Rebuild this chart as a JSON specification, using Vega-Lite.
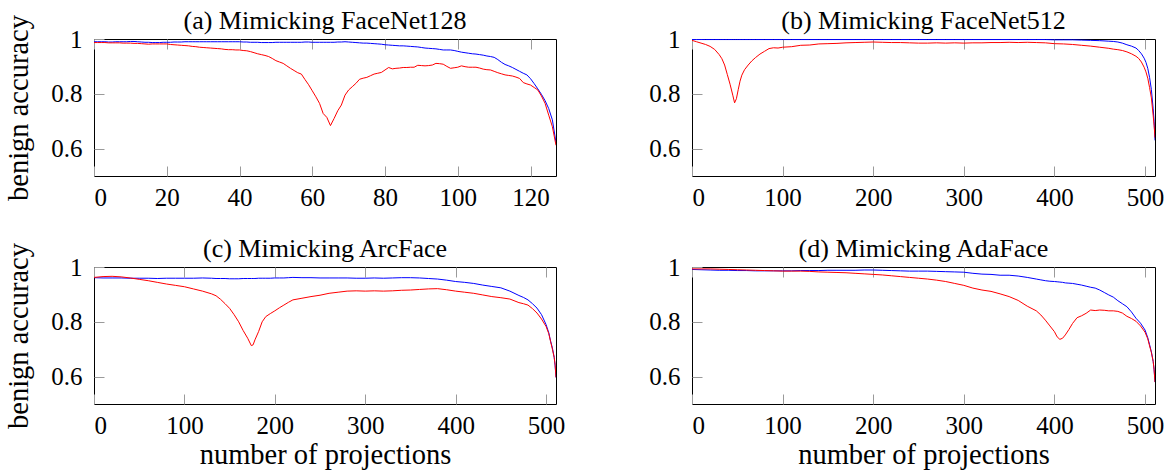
{
  "$schema": "https://vega.github.io/schema/vega-lite/v6.json",
  "autosize": {"type": "pad"},
  "padding": {"left": 4, "top": 7, "right": 2, "bottom": 1},
  "background": "white",
  "config": {
    "font": "Liberation Serif",
    "view": {"stroke": "#000000", "strokeWidth": 1},
    "axis": {
      "labelFont": "Liberation Serif", "labelFontSize": 25, "labelColor": "#000000",
      "titleFont": "Liberation Serif", "titleFontSize": 28.5, "titleFontWeight": "normal", "titleColor": "#000000",
      "grid": false, "domain": false, "tickColor": "#9a9a9a", "tickWidth": 1, "tickSize": -10
    },
    "axisX": {"labelPadding": 19, "titlePadding": 2},
    "axisY": {"labelPadding": 22, "titlePadding": 17},
    "title": {"font": "Liberation Serif", "fontSize": 26, "fontWeight": "normal", "color": "#000000", "frame": "group", "anchor": "middle"}
  },
  "data": {"values": [
{"p":"a","x":0,"blue":0.990,"red":0.987},{"p":"a","x":1,"blue":0.990,"red":0.987},{"p":"a","x":2,"blue":0.990,"red":0.987},{"p":"a","x":3,"blue":0.990,"red":0.987},{"p":"a","x":4,"blue":0.989,"red":0.986},{"p":"a","x":5,"blue":0.989,"red":0.986},{"p":"a","x":6,"blue":0.990,"red":0.986},{"p":"a","x":7,"blue":0.990,"red":0.986},{"p":"a","x":8,"blue":0.990,"red":0.985},{"p":"a","x":9,"blue":0.990,"red":0.985},
{"p":"a","x":10,"blue":0.991,"red":0.985},{"p":"a","x":11,"blue":0.991,"red":0.984},{"p":"a","x":12,"blue":0.990,"red":0.984},{"p":"a","x":13,"blue":0.989,"red":0.983},{"p":"a","x":14,"blue":0.988,"red":0.982},{"p":"a","x":15,"blue":0.988,"red":0.981},{"p":"a","x":16,"blue":0.987,"red":0.982},{"p":"a","x":17,"blue":0.987,"red":0.982},{"p":"a","x":18,"blue":0.987,"red":0.982},{"p":"a","x":19,"blue":0.988,"red":0.982},
{"p":"a","x":20,"blue":0.988,"red":0.982},{"p":"a","x":21,"blue":0.988,"red":0.980},{"p":"a","x":22,"blue":0.989,"red":0.979},{"p":"a","x":23,"blue":0.989,"red":0.978},{"p":"a","x":24,"blue":0.989,"red":0.977},{"p":"a","x":25,"blue":0.990,"red":0.976},{"p":"a","x":26,"blue":0.990,"red":0.975},{"p":"a","x":27,"blue":0.990,"red":0.973},{"p":"a","x":28,"blue":0.990,"red":0.972},{"p":"a","x":29,"blue":0.990,"red":0.970},
{"p":"a","x":30,"blue":0.990,"red":0.969},{"p":"a","x":31,"blue":0.990,"red":0.968},{"p":"a","x":32,"blue":0.990,"red":0.967},{"p":"a","x":33,"blue":0.990,"red":0.966},{"p":"a","x":34,"blue":0.990,"red":0.965},{"p":"a","x":35,"blue":0.990,"red":0.964},{"p":"a","x":36,"blue":0.990,"red":0.962},{"p":"a","x":37,"blue":0.990,"red":0.961},{"p":"a","x":38,"blue":0.990,"red":0.961},{"p":"a","x":39,"blue":0.990,"red":0.960},
{"p":"a","x":40,"blue":0.990,"red":0.960},{"p":"a","x":41,"blue":0.989,"red":0.958},{"p":"a","x":42,"blue":0.989,"red":0.957},{"p":"a","x":43,"blue":0.988,"red":0.954},{"p":"a","x":44,"blue":0.988,"red":0.950},{"p":"a","x":45,"blue":0.988,"red":0.946},{"p":"a","x":46,"blue":0.987,"red":0.943},{"p":"a","x":47,"blue":0.987,"red":0.940},{"p":"a","x":48,"blue":0.987,"red":0.936},{"p":"a","x":49,"blue":0.987,"red":0.929},
{"p":"a","x":50,"blue":0.988,"red":0.921},{"p":"a","x":51,"blue":0.988,"red":0.916},{"p":"a","x":52,"blue":0.988,"red":0.911},{"p":"a","x":53,"blue":0.988,"red":0.902},{"p":"a","x":54,"blue":0.988,"red":0.893},{"p":"a","x":55,"blue":0.988,"red":0.885},{"p":"a","x":56,"blue":0.988,"red":0.877},{"p":"a","x":57,"blue":0.988,"red":0.872},{"p":"a","x":58,"blue":0.989,"red":0.852},{"p":"a","x":59,"blue":0.989,"red":0.833},
{"p":"a","x":60,"blue":0.988,"red":0.811},{"p":"a","x":61,"blue":0.988,"red":0.789},{"p":"a","x":62,"blue":0.988,"red":0.765},{"p":"a","x":63,"blue":0.988,"red":0.728},{"p":"a","x":64,"blue":0.988,"red":0.714},{"p":"a","x":65,"blue":0.988,"red":0.684},{"p":"a","x":66,"blue":0.988,"red":0.710},{"p":"a","x":67,"blue":0.989,"red":0.738},{"p":"a","x":68,"blue":0.989,"red":0.759},{"p":"a","x":69,"blue":0.990,"red":0.795},
{"p":"a","x":70,"blue":0.989,"red":0.814},{"p":"a","x":71,"blue":0.988,"red":0.826},{"p":"a","x":72,"blue":0.987,"red":0.838},{"p":"a","x":73,"blue":0.986,"red":0.853},{"p":"a","x":74,"blue":0.985,"red":0.857},{"p":"a","x":75,"blue":0.985,"red":0.860},{"p":"a","x":76,"blue":0.984,"red":0.866},{"p":"a","x":77,"blue":0.983,"red":0.872},{"p":"a","x":78,"blue":0.982,"red":0.875},{"p":"a","x":79,"blue":0.981,"red":0.878},
{"p":"a","x":80,"blue":0.979,"red":0.887},{"p":"a","x":81,"blue":0.978,"red":0.896},{"p":"a","x":82,"blue":0.977,"red":0.891},{"p":"a","x":83,"blue":0.976,"red":0.893},{"p":"a","x":84,"blue":0.975,"red":0.894},{"p":"a","x":85,"blue":0.975,"red":0.896},{"p":"a","x":86,"blue":0.974,"red":0.896},{"p":"a","x":87,"blue":0.973,"red":0.897},{"p":"a","x":88,"blue":0.972,"red":0.897},{"p":"a","x":89,"blue":0.971,"red":0.904},
{"p":"a","x":90,"blue":0.969,"red":0.903},{"p":"a","x":91,"blue":0.967,"red":0.902},{"p":"a","x":92,"blue":0.966,"red":0.903},{"p":"a","x":93,"blue":0.965,"red":0.905},{"p":"a","x":94,"blue":0.964,"red":0.911},{"p":"a","x":95,"blue":0.962,"red":0.910},{"p":"a","x":96,"blue":0.960,"red":0.908},{"p":"a","x":97,"blue":0.960,"red":0.900},{"p":"a","x":98,"blue":0.960,"red":0.893},{"p":"a","x":99,"blue":0.958,"red":0.895},
{"p":"a","x":100,"blue":0.955,"red":0.897},{"p":"a","x":101,"blue":0.952,"red":0.902},{"p":"a","x":102,"blue":0.950,"red":0.899},{"p":"a","x":103,"blue":0.948,"red":0.897},{"p":"a","x":104,"blue":0.946,"red":0.897},{"p":"a","x":105,"blue":0.945,"red":0.897},{"p":"a","x":106,"blue":0.943,"red":0.894},{"p":"a","x":107,"blue":0.941,"red":0.890},{"p":"a","x":108,"blue":0.938,"red":0.888},{"p":"a","x":109,"blue":0.936,"red":0.887},
{"p":"a","x":110,"blue":0.933,"red":0.882},{"p":"a","x":111,"blue":0.925,"red":0.877},{"p":"a","x":112,"blue":0.915,"red":0.873},{"p":"a","x":113,"blue":0.907,"red":0.869},{"p":"a","x":114,"blue":0.902,"red":0.867},{"p":"a","x":115,"blue":0.896,"red":0.865},{"p":"a","x":116,"blue":0.889,"red":0.861},{"p":"a","x":117,"blue":0.882,"red":0.856},{"p":"a","x":118,"blue":0.875,"red":0.841},{"p":"a","x":119,"blue":0.869,"red":0.836},
{"p":"a","x":120,"blue":0.855,"red":0.832},{"p":"a","x":121,"blue":0.837,"red":0.823},{"p":"a","x":122,"blue":0.818,"red":0.814},{"p":"a","x":123,"blue":0.798,"red":0.792},{"p":"a","x":124,"blue":0.775,"red":0.765},{"p":"a","x":125,"blue":0.746,"red":0.722},{"p":"a","x":126,"blue":0.705,"red":0.680},{"p":"a","x":127,"blue":0.622,"red":0.612},
{"p":"b","x":0,"blue":0.998,"red":0.995},{"p":"b","x":5,"blue":0.998,"red":0.990},{"p":"b","x":10,"blue":0.998,"red":0.985},{"p":"b","x":15,"blue":0.998,"red":0.980},{"p":"b","x":20,"blue":0.998,"red":0.973},{"p":"b","x":25,"blue":0.998,"red":0.962},{"p":"b","x":30,"blue":0.998,"red":0.943},{"p":"b","x":33,"blue":0.998,"red":0.928},{"p":"b","x":36,"blue":0.998,"red":0.905},{"p":"b","x":39,"blue":0.998,"red":0.870},
{"p":"b","x":42,"blue":0.998,"red":0.835},{"p":"b","x":45,"blue":0.998,"red":0.795},{"p":"b","x":47,"blue":0.998,"red":0.767},{"p":"b","x":49,"blue":0.998,"red":0.782},{"p":"b","x":51,"blue":0.998,"red":0.815},{"p":"b","x":53,"blue":0.998,"red":0.846},{"p":"b","x":55,"blue":0.998,"red":0.868},{"p":"b","x":58,"blue":0.998,"red":0.888},{"p":"b","x":62,"blue":0.998,"red":0.905},{"p":"b","x":66,"blue":0.998,"red":0.920},
{"p":"b","x":70,"blue":0.998,"red":0.932},{"p":"b","x":75,"blue":0.998,"red":0.945},{"p":"b","x":80,"blue":0.998,"red":0.955},{"p":"b","x":85,"blue":0.998,"red":0.965},{"p":"b","x":90,"blue":0.998,"red":0.968},{"p":"b","x":95,"blue":0.998,"red":0.967},{"p":"b","x":100,"blue":0.998,"red":0.970},{"p":"b","x":110,"blue":0.998,"red":0.972},{"p":"b","x":120,"blue":0.998,"red":0.977},{"p":"b","x":130,"blue":0.998,"red":0.978},
{"p":"b","x":140,"blue":0.998,"red":0.982},{"p":"b","x":150,"blue":0.998,"red":0.983},{"p":"b","x":160,"blue":0.998,"red":0.984},{"p":"b","x":170,"blue":0.998,"red":0.986},{"p":"b","x":180,"blue":0.998,"red":0.987},{"p":"b","x":190,"blue":0.998,"red":0.988},{"p":"b","x":200,"blue":0.998,"red":0.989},{"p":"b","x":210,"blue":0.998,"red":0.988},{"p":"b","x":220,"blue":0.998,"red":0.987},{"p":"b","x":230,"blue":0.998,"red":0.987},
{"p":"b","x":240,"blue":0.998,"red":0.986},{"p":"b","x":250,"blue":0.998,"red":0.985},{"p":"b","x":260,"blue":0.998,"red":0.985},{"p":"b","x":270,"blue":0.998,"red":0.986},{"p":"b","x":280,"blue":0.998,"red":0.985},{"p":"b","x":290,"blue":0.998,"red":0.986},{"p":"b","x":300,"blue":0.998,"red":0.985},{"p":"b","x":310,"blue":0.998,"red":0.986},{"p":"b","x":320,"blue":0.998,"red":0.986},{"p":"b","x":330,"blue":0.998,"red":0.987},
{"p":"b","x":340,"blue":0.998,"red":0.987},{"p":"b","x":350,"blue":0.998,"red":0.988},{"p":"b","x":360,"blue":0.998,"red":0.987},{"p":"b","x":370,"blue":0.998,"red":0.988},{"p":"b","x":380,"blue":0.998,"red":0.987},{"p":"b","x":390,"blue":0.998,"red":0.986},{"p":"b","x":400,"blue":0.997,"red":0.983},{"p":"b","x":410,"blue":0.997,"red":0.982},{"p":"b","x":420,"blue":0.997,"red":0.980},{"p":"b","x":430,"blue":0.996,"red":0.977},
{"p":"b","x":440,"blue":0.995,"red":0.974},{"p":"b","x":450,"blue":0.994,"red":0.970},{"p":"b","x":460,"blue":0.992,"red":0.966},{"p":"b","x":465,"blue":0.991,"red":0.963},{"p":"b","x":470,"blue":0.989,"red":0.961},{"p":"b","x":475,"blue":0.985,"red":0.958},{"p":"b","x":480,"blue":0.979,"red":0.953},{"p":"b","x":485,"blue":0.974,"red":0.946},{"p":"b","x":490,"blue":0.967,"red":0.937},{"p":"b","x":493,"blue":0.958,"red":0.929},
{"p":"b","x":496,"blue":0.946,"red":0.916},{"p":"b","x":499,"blue":0.930,"red":0.897},{"p":"b","x":501,"blue":0.915,"red":0.880},{"p":"b","x":503,"blue":0.893,"red":0.857},{"p":"b","x":505,"blue":0.860,"red":0.823},{"p":"b","x":507,"blue":0.815,"red":0.785},{"p":"b","x":509,"blue":0.745,"red":0.720},{"p":"b","x":510,"blue":0.700,"red":0.685},{"p":"b","x":511,"blue":0.630,"red":0.640},
{"p":"c","x":0,"blue":0.961,"red":0.962},{"p":"c","x":10,"blue":0.960,"red":0.965},{"p":"c","x":20,"blue":0.960,"red":0.966},{"p":"c","x":30,"blue":0.960,"red":0.964},{"p":"c","x":40,"blue":0.959,"red":0.960},{"p":"c","x":50,"blue":0.959,"red":0.955},{"p":"c","x":60,"blue":0.959,"red":0.950},{"p":"c","x":70,"blue":0.958,"red":0.944},{"p":"c","x":80,"blue":0.959,"red":0.938},{"p":"c","x":90,"blue":0.959,"red":0.933},
{"p":"c","x":100,"blue":0.959,"red":0.928},{"p":"c","x":110,"blue":0.959,"red":0.920},{"p":"c","x":120,"blue":0.960,"red":0.912},{"p":"c","x":130,"blue":0.959,"red":0.902},{"p":"c","x":135,"blue":0.958,"red":0.895},{"p":"c","x":140,"blue":0.958,"red":0.882},{"p":"c","x":145,"blue":0.958,"red":0.866},{"p":"c","x":150,"blue":0.957,"red":0.849},{"p":"c","x":155,"blue":0.957,"red":0.826},{"p":"c","x":160,"blue":0.957,"red":0.800},
{"p":"c","x":165,"blue":0.958,"red":0.768},{"p":"c","x":170,"blue":0.958,"red":0.740},{"p":"c","x":174,"blue":0.958,"red":0.713},{"p":"c","x":176,"blue":0.958,"red":0.716},{"p":"c","x":178,"blue":0.958,"red":0.734},{"p":"c","x":182,"blue":0.959,"red":0.764},{"p":"c","x":186,"blue":0.959,"red":0.800},{"p":"c","x":190,"blue":0.959,"red":0.819},{"p":"c","x":195,"blue":0.959,"red":0.830},{"p":"c","x":200,"blue":0.960,"red":0.840},
{"p":"c","x":205,"blue":0.960,"red":0.851},{"p":"c","x":210,"blue":0.960,"red":0.861},{"p":"c","x":215,"blue":0.961,"red":0.871},{"p":"c","x":220,"blue":0.962,"red":0.880},{"p":"c","x":230,"blue":0.961,"red":0.886},{"p":"c","x":240,"blue":0.961,"red":0.892},{"p":"c","x":250,"blue":0.960,"red":0.897},{"p":"c","x":260,"blue":0.960,"red":0.904},{"p":"c","x":270,"blue":0.960,"red":0.908},{"p":"c","x":280,"blue":0.960,"red":0.912},
{"p":"c","x":290,"blue":0.959,"red":0.913},{"p":"c","x":300,"blue":0.959,"red":0.912},{"p":"c","x":310,"blue":0.960,"red":0.913},{"p":"c","x":320,"blue":0.959,"red":0.912},{"p":"c","x":330,"blue":0.960,"red":0.913},{"p":"c","x":340,"blue":0.961,"red":0.915},{"p":"c","x":350,"blue":0.961,"red":0.916},{"p":"c","x":360,"blue":0.960,"red":0.918},{"p":"c","x":370,"blue":0.958,"red":0.920},{"p":"c","x":380,"blue":0.956,"red":0.921},
{"p":"c","x":390,"blue":0.952,"red":0.917},{"p":"c","x":400,"blue":0.947,"red":0.912},{"p":"c","x":410,"blue":0.944,"red":0.908},{"p":"c","x":420,"blue":0.940,"red":0.904},{"p":"c","x":430,"blue":0.934,"red":0.898},{"p":"c","x":440,"blue":0.929,"red":0.892},{"p":"c","x":450,"blue":0.924,"red":0.888},{"p":"c","x":460,"blue":0.912,"red":0.883},{"p":"c","x":470,"blue":0.896,"red":0.870},{"p":"c","x":475,"blue":0.889,"red":0.866},
{"p":"c","x":480,"blue":0.880,"red":0.861},{"p":"c","x":485,"blue":0.866,"red":0.848},{"p":"c","x":490,"blue":0.850,"red":0.832},{"p":"c","x":495,"blue":0.826,"red":0.810},{"p":"c","x":500,"blue":0.790,"red":0.783},{"p":"c","x":503,"blue":0.760,"red":0.757},{"p":"c","x":505,"blue":0.730,"red":0.728},{"p":"c","x":507,"blue":0.705,"red":0.700},{"p":"c","x":509,"blue":0.670,"red":0.670},{"p":"c","x":510,"blue":0.640,"red":0.645},{"p":"c","x":511,"blue":0.597,"red":0.597},
{"p":"d","x":0,"blue":0.991,"red":0.993},{"p":"d","x":10,"blue":0.990,"red":0.993},{"p":"d","x":20,"blue":0.989,"red":0.993},{"p":"d","x":30,"blue":0.988,"red":0.992},{"p":"d","x":40,"blue":0.988,"red":0.991},{"p":"d","x":50,"blue":0.987,"red":0.990},{"p":"d","x":60,"blue":0.987,"red":0.989},{"p":"d","x":70,"blue":0.986,"red":0.988},{"p":"d","x":80,"blue":0.986,"red":0.987},{"p":"d","x":90,"blue":0.986,"red":0.986},
{"p":"d","x":100,"blue":0.986,"red":0.985},{"p":"d","x":110,"blue":0.986,"red":0.985},{"p":"d","x":120,"blue":0.987,"red":0.985},{"p":"d","x":130,"blue":0.987,"red":0.984},{"p":"d","x":140,"blue":0.987,"red":0.982},{"p":"d","x":150,"blue":0.988,"red":0.981},{"p":"d","x":160,"blue":0.988,"red":0.980},{"p":"d","x":170,"blue":0.988,"red":0.979},{"p":"d","x":180,"blue":0.988,"red":0.977},{"p":"d","x":190,"blue":0.989,"red":0.975},
{"p":"d","x":200,"blue":0.989,"red":0.973},{"p":"d","x":210,"blue":0.988,"red":0.971},{"p":"d","x":220,"blue":0.987,"red":0.968},{"p":"d","x":230,"blue":0.986,"red":0.965},{"p":"d","x":240,"blue":0.985,"red":0.962},{"p":"d","x":250,"blue":0.985,"red":0.959},{"p":"d","x":260,"blue":0.985,"red":0.956},{"p":"d","x":270,"blue":0.984,"red":0.952},{"p":"d","x":280,"blue":0.983,"red":0.947},{"p":"d","x":290,"blue":0.982,"red":0.940},
{"p":"d","x":300,"blue":0.981,"red":0.933},{"p":"d","x":310,"blue":0.977,"red":0.923},{"p":"d","x":320,"blue":0.974,"red":0.916},{"p":"d","x":330,"blue":0.973,"red":0.911},{"p":"d","x":340,"blue":0.970,"red":0.902},{"p":"d","x":350,"blue":0.970,"red":0.892},{"p":"d","x":360,"blue":0.967,"red":0.878},{"p":"d","x":370,"blue":0.962,"red":0.857},{"p":"d","x":380,"blue":0.956,"red":0.840},{"p":"d","x":385,"blue":0.953,"red":0.825},
{"p":"d","x":390,"blue":0.950,"red":0.806},{"p":"d","x":395,"blue":0.948,"red":0.785},{"p":"d","x":400,"blue":0.947,"red":0.764},{"p":"d","x":403,"blue":0.946,"red":0.745},{"p":"d","x":406,"blue":0.945,"red":0.736},{"p":"d","x":409,"blue":0.944,"red":0.740},{"p":"d","x":412,"blue":0.942,"red":0.752},{"p":"d","x":416,"blue":0.941,"red":0.772},{"p":"d","x":420,"blue":0.940,"red":0.794},{"p":"d","x":425,"blue":0.937,"red":0.815},
{"p":"d","x":430,"blue":0.934,"red":0.822},{"p":"d","x":435,"blue":0.930,"red":0.831},{"p":"d","x":440,"blue":0.926,"red":0.843},{"p":"d","x":445,"blue":0.923,"red":0.841},{"p":"d","x":450,"blue":0.916,"red":0.843},{"p":"d","x":455,"blue":0.907,"red":0.842},{"p":"d","x":460,"blue":0.898,"red":0.840},{"p":"d","x":465,"blue":0.890,"red":0.840},{"p":"d","x":470,"blue":0.877,"red":0.838},{"p":"d","x":475,"blue":0.866,"red":0.832},
{"p":"d","x":480,"blue":0.855,"red":0.820},{"p":"d","x":485,"blue":0.836,"red":0.812},{"p":"d","x":490,"blue":0.813,"red":0.802},{"p":"d","x":495,"blue":0.795,"red":0.785},{"p":"d","x":500,"blue":0.770,"red":0.762},{"p":"d","x":503,"blue":0.742,"red":0.738},{"p":"d","x":505,"blue":0.717,"red":0.712},{"p":"d","x":507,"blue":0.690,"red":0.688},{"p":"d","x":509,"blue":0.655,"red":0.655},{"p":"d","x":510,"blue":0.625,"red":0.625},{"p":"d","x":511,"blue":0.580,"red":0.580}
  ]},
  "columns": 2,
  "spacing": {"row": 91, "column": 136},
  "bounds": "flush",
  "resolve": {"scale": {"x": "independent", "y": "independent"}},
  "concat": [
    {
      "title": {"text": "(a) Mimicking FaceNet128", "offset": -19},
      "width": 462, "height": 137,
      "transform": [{"filter": "datum.p === 'a'"}, {"fold": ["blue", "red"], "as": ["s", "y"]}],
      "resolve": {"axis": {"x": "independent"}},
      "layer": [
        {"mark": {"type": "line", "strokeWidth": 1, "clip": true},
         "encoding": {
           "x": {"field": "x", "type": "quantitative", "scale": {"domain": [0, 127], "nice": false}, "axis": {"values": [0, 20, 40, 60, 80, 100, 120], "title": null}},
           "y": {"field": "y", "type": "quantitative", "scale": {"domain": [0.5, 1], "nice": false}, "axis": {"values": [0.6, 0.8, 1], "format": "~g", "title": "benign accuracy"}},
           "color": {"field": "s", "type": "nominal", "scale": {"domain": ["blue", "red"], "range": ["#0000ff", "#ff0000"]}, "legend": null}
         }},
        {"mark": {"type": "point", "opacity": 0},
         "encoding": {
           "x": {"field": "x", "type": "quantitative", "scale": {"domain": [0, 127], "nice": false}, "axis": {"orient": "top", "values": [0, 20, 40, 60, 80, 100, 120], "labels": false, "title": null}}
         }}
      ]
    },
    {
      "title": {"text": "(b) Mimicking FaceNet512", "offset": -7},
      "width": 463, "height": 137,
      "transform": [{"filter": "datum.p === 'b'"}, {"fold": ["blue", "red"], "as": ["s", "y"]}],
      "resolve": {"axis": {"x": "independent"}},
      "layer": [
        {"mark": {"type": "line", "strokeWidth": 1, "clip": true},
         "encoding": {
           "x": {"field": "x", "type": "quantitative", "scale": {"domain": [0, 511], "nice": false}, "axis": {"values": [0, 100, 200, 300, 400, 500], "title": null}},
           "y": {"field": "y", "type": "quantitative", "scale": {"domain": [0.5, 1], "nice": false}, "axis": {"values": [0.6, 0.8, 1], "format": "~g", "title": null}},
           "color": {"field": "s", "type": "nominal", "scale": {"domain": ["blue", "red"], "range": ["#0000ff", "#ff0000"]}, "legend": null}
         }},
        {"mark": {"type": "point", "opacity": 0},
         "encoding": {
           "x": {"field": "x", "type": "quantitative", "scale": {"domain": [0, 511], "nice": false}, "axis": {"orient": "top", "values": [0, 100, 200, 300, 400, 500], "labels": false, "title": null}}
         }}
      ]
    },
    {
      "title": {"text": "(c) Mimicking ArcFace", "offset": -19},
      "width": 462, "height": 137,
      "transform": [{"filter": "datum.p === 'c'"}, {"fold": ["blue", "red"], "as": ["s", "y"]}],
      "resolve": {"axis": {"x": "independent"}},
      "layer": [
        {"mark": {"type": "line", "strokeWidth": 1, "clip": true},
         "encoding": {
           "x": {"field": "x", "type": "quantitative", "scale": {"domain": [0, 511], "nice": false}, "axis": {"values": [0, 100, 200, 300, 400, 500], "title": "number of projections"}},
           "y": {"field": "y", "type": "quantitative", "scale": {"domain": [0.5, 1], "nice": false}, "axis": {"values": [0.6, 0.8, 1], "format": "~g", "title": "benign accuracy"}},
           "color": {"field": "s", "type": "nominal", "scale": {"domain": ["blue", "red"], "range": ["#0000ff", "#ff0000"]}, "legend": null}
         }},
        {"mark": {"type": "point", "opacity": 0},
         "encoding": {
           "x": {"field": "x", "type": "quantitative", "scale": {"domain": [0, 511], "nice": false}, "axis": {"orient": "top", "values": [0, 100, 200, 300, 400, 500], "labels": false, "title": null}}
         }}
      ]
    },
    {
      "title": {"text": "(d) Mimicking AdaFace", "offset": -7},
      "width": 463, "height": 137,
      "transform": [{"filter": "datum.p === 'd'"}, {"fold": ["blue", "red"], "as": ["s", "y"]}],
      "resolve": {"axis": {"x": "independent"}},
      "layer": [
        {"mark": {"type": "line", "strokeWidth": 1, "clip": true},
         "encoding": {
           "x": {"field": "x", "type": "quantitative", "scale": {"domain": [0, 511], "nice": false}, "axis": {"values": [0, 100, 200, 300, 400, 500], "title": "number of projections"}},
           "y": {"field": "y", "type": "quantitative", "scale": {"domain": [0.5, 1], "nice": false}, "axis": {"values": [0.6, 0.8, 1], "format": "~g", "title": null}},
           "color": {"field": "s", "type": "nominal", "scale": {"domain": ["blue", "red"], "range": ["#0000ff", "#ff0000"]}, "legend": null}
         }},
        {"mark": {"type": "point", "opacity": 0},
         "encoding": {
           "x": {"field": "x", "type": "quantitative", "scale": {"domain": [0, 511], "nice": false}, "axis": {"orient": "top", "values": [0, 100, 200, 300, 400, 500], "labels": false, "title": null}}
         }}
      ]
    }
  ]
}
